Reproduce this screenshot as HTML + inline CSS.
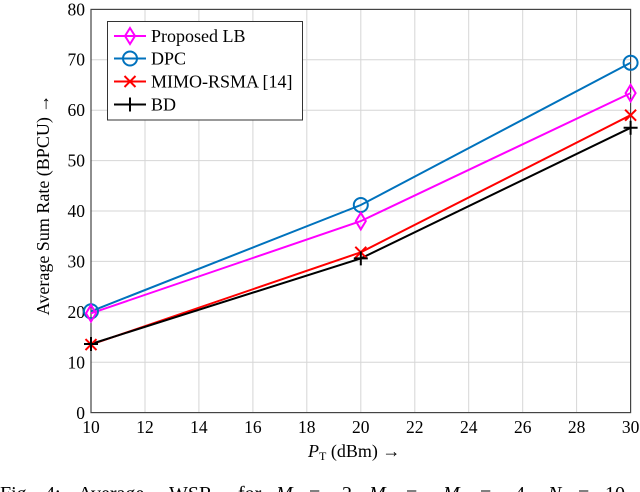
<!DOCTYPE html>
<html><head><meta charset="utf-8"><style>
html,body{margin:0;padding:0;background:#fff;width:640px;height:492px;overflow:hidden}
svg{display:block}
text{font-family:"Liberation Serif",serif;fill:#000}
</style></head><body>
<svg width="640" height="492" viewBox="0 0 640 492" xmlns="http://www.w3.org/2000/svg">
<g stroke="#d6d6d6" stroke-width="1">
<line x1="145" y1="9.4" x2="145" y2="412.6"/>
<line x1="198.9" y1="9.4" x2="198.9" y2="412.6"/>
<line x1="252.9" y1="9.4" x2="252.9" y2="412.6"/>
<line x1="306.8" y1="9.4" x2="306.8" y2="412.6"/>
<line x1="360.8" y1="9.4" x2="360.8" y2="412.6"/>
<line x1="414.8" y1="9.4" x2="414.8" y2="412.6"/>
<line x1="468.7" y1="9.4" x2="468.7" y2="412.6"/>
<line x1="522.7" y1="9.4" x2="522.7" y2="412.6"/>
<line x1="576.6" y1="9.4" x2="576.6" y2="412.6"/>
<line x1="91" y1="362.2" x2="630.6" y2="362.2"/>
<line x1="91" y1="311.8" x2="630.6" y2="311.8"/>
<line x1="91" y1="261.4" x2="630.6" y2="261.4"/>
<line x1="91" y1="211" x2="630.6" y2="211"/>
<line x1="91" y1="160.6" x2="630.6" y2="160.6"/>
<line x1="91" y1="110.2" x2="630.6" y2="110.2"/>
<line x1="91" y1="59.8" x2="630.6" y2="59.8"/>
</g>
<rect x="91" y="9.4" width="539.6" height="403.2" fill="none" stroke="#444" stroke-width="1.2"/>
<g font-size="17.5" text-anchor="end">
<text x="85" y="419">0</text>
<text x="85" y="368.5">10</text>
<text x="85" y="318">20</text>
<text x="85" y="267.5">30</text>
<text x="85" y="217">40</text>
<text x="85" y="166.5">50</text>
<text x="85" y="116">60</text>
<text x="85" y="65.5">70</text>
<text x="85" y="15.5">80</text>
</g>
<g font-size="17.5" text-anchor="middle">
<text x="91" y="433">10</text>
<text x="145" y="433">12</text>
<text x="198.9" y="433">14</text>
<text x="252.9" y="433">16</text>
<text x="306.8" y="433">18</text>
<text x="360.8" y="433">20</text>
<text x="414.8" y="433">22</text>
<text x="468.7" y="433">24</text>
<text x="522.7" y="433">26</text>
<text x="576.6" y="433">28</text>
<text x="630.6" y="433">30</text>
</g>
<text x="308" y="457" font-size="18"><tspan font-style="italic">P</tspan><tspan font-size="12" dy="3">T</tspan><tspan dy="-3"> (dBm)  →</tspan></text>
<text transform="translate(49,205) rotate(-90)" font-size="18" text-anchor="middle">Average Sum Rate (BPCU)  →</text>
<g fill="none" stroke-width="2">
<polyline stroke="#0072bd" points="91,311.3 360.8,205 630.6,62.8"/>
<polyline stroke="#ff00ff" points="91,313.3 360.8,221.1 630.6,93.1"/>
<polyline stroke="#ff0000" points="91,344.6 360.8,252.3 630.6,115.2"/>
<polyline stroke="#000" points="91,344 360.8,258.4 630.6,127.8"/>
</g>
<g fill="none" stroke="#0072bd" stroke-width="2">
<circle cx="91" cy="311.3" r="7"/><circle cx="360.8" cy="205" r="7"/><circle cx="630.6" cy="62.8" r="7"/>
</g>
<g fill="none" stroke="#ff00ff" stroke-width="2">
<path d="M91,305 L96,313.3 L91,321.6 L86,313.3 Z"/>
<path d="M360.8,212.8 L365.8,221.1 L360.8,229.4 L355.8,221.1 Z"/>
<path d="M630.6,84.8 L635.6,93.1 L630.6,101.4 L625.6,93.1 Z"/>
</g>
<g stroke="#ff0000" stroke-width="2">
<path d="M85.5,339.1 L96.5,350.1 M85.5,350.1 L96.5,339.1"/>
<path d="M355.3,246.8 L366.3,257.8 M355.3,257.8 L366.3,246.8"/>
<path d="M625.1,109.7 L636.1,120.7 M625.1,120.7 L636.1,109.7"/>
</g>
<g stroke="#000" stroke-width="2">
<path d="M84,344 L98,344 M91,337 L91,351"/>
<path d="M353.8,258.4 L367.8,258.4 M360.8,251.4 L360.8,265.4"/>
<path d="M623.6,127.8 L637.6,127.8 M630.6,120.8 L630.6,134.8"/>
</g>
<rect x="107.5" y="21.5" width="195" height="98.5" fill="#fff" stroke="#333" stroke-width="1"/>
<g stroke-width="2" fill="none">
<line x1="114" y1="36" x2="146" y2="36" stroke="#ff00ff"/>
<path d="M130,28 L135,36 L130,44 L125,36 Z" stroke="#ff00ff"/>
<line x1="114" y1="58.5" x2="146" y2="58.5" stroke="#0072bd"/>
<circle cx="130" cy="58.5" r="7" stroke="#0072bd"/>
<line x1="114" y1="81.5" x2="146" y2="81.5" stroke="#ff0000"/>
<path d="M124.5,76 L135.5,87 M124.5,87 L135.5,76" stroke="#ff0000"/>
<line x1="114" y1="104.5" x2="146" y2="104.5" stroke="#000"/>
<path d="M130,97.5 L130,111.5" stroke="#000"/>
</g>
<g font-size="18">
<text x="151" y="42">Proposed LB</text>
<text x="151" y="64.5">DPC</text>
<text x="151" y="87.5">MIMO-RSMA [14]</text>
<text x="151" y="110.5">BD</text>
</g>
<g font-size="20">
<text x="0" y="500">Fig.</text>
<text x="45" y="500">4:</text>
<text x="78" y="500">Average</text>
<text x="169" y="500">WSR</text>
<text x="238" y="500">for</text>
<text x="276" y="500" font-style="italic">M</text>
<text x="309" y="500">=</text>
<text x="342" y="500">2,</text>
<text x="369" y="500" font-style="italic">M</text>
<text x="406" y="500">=</text>
<text x="443" y="500" font-style="italic">M</text>
<text x="480" y="500">=</text>
<text x="515" y="500">4,</text>
<text x="548" y="500" font-style="italic">N</text>
<text x="578" y="500">=</text>
<text x="605" y="500">10</text>
</g>
</svg>
</body></html>
